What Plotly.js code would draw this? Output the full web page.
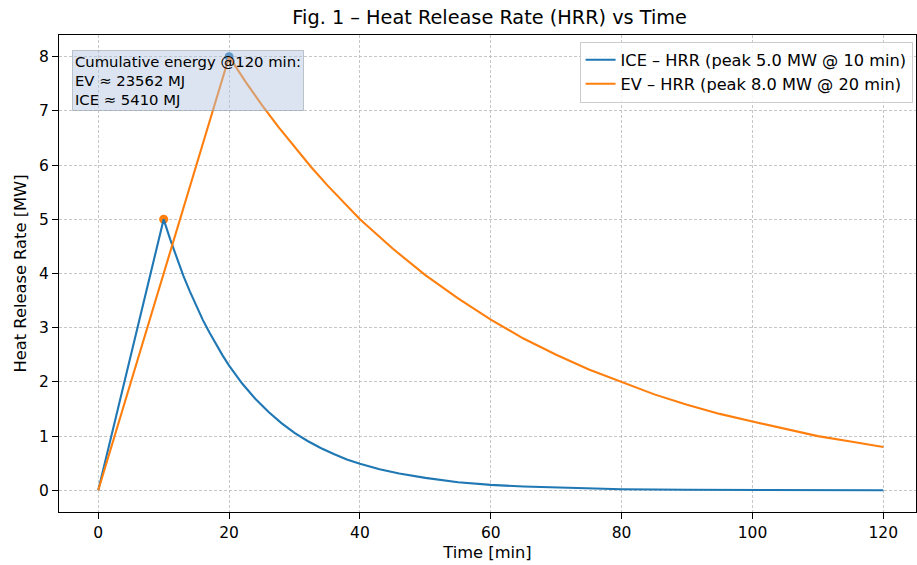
<!DOCTYPE html>
<html><head><meta charset="utf-8">
<script src="https://cdn.plot.ly/plotly-3.0.1.min.js"></script>
<style>html,body{margin:0;padding:0;background:#fff;overflow:hidden}</style>
</head><body><div id="chart" style="width:917px;height:565px"></div>
<script>
const iceTime = [0,10,11,12,13,14,15,16,17,18,19,20,22,24,26,28,30,32,34,36,38,40,43,46,50,55,60,65,70,75,80,90,100,110,120];
const iceHRR  = [0,5,4.63,4.28,3.96,3.67,3.39,3.14,2.91,2.69,2.49,2.3,1.97,1.69,1.45,1.24,1.06,0.91,0.78,0.67,0.57,0.49,0.39,0.31,0.23,0.15,0.1,0.07,0.05,0.03,0.02,0.01,0.005,0.002,0.001];
const evTime = [0,20,22.5,25,27.5,30,32.5,35,37.5,40,45,50,55,60,65,70,75,80,85,90,95,100,105,110,115,120];
const evHRR  = [0,8,7.54,7.11,6.71,6.33,5.97,5.63,5.31,5.0,4.46,3.97,3.54,3.15,2.8,2.5,2.23,2.0,1.77,1.58,1.41,1.27,1.13,1.0,0.9,0.8];
const peakTime = [10,20];
const peakHRR = [5,8];
const peakColors = ['#ff7f0e','#1f77b4'];
const seriesNames = ['ICE – HRR (peak 5.0 MW @ 10 min)','EV – HRR (peak 8.0 MW @ 20 min)'];
const titleText = 'Fig. 1 – Heat Release Rate (HRR) vs Time';
const xLabel = 'Time [min]';
const yLabel = 'Heat Release Rate [MW]';
const noteText = 'Cumulative energy @120 min:<br>EV ≈ 23562 MJ<br>ICE ≈ 5410 MJ';

const font = 'DejaVu Sans, sans-serif';
const traces = [
  {x: peakTime, y: peakHRR, mode:'markers', marker:{color:peakColors, size:9}, showlegend:false, hoverinfo:'skip'},
  {x: iceTime, y: iceHRR, mode:'lines', name: seriesNames[0], line:{color:'#1f77b4', width:2.1}},
  {x: evTime, y: evHRR, mode:'lines', name: seriesNames[1], line:{color:'#ff7f0e', width:2.1}}
];
const axisCommon = {
  showline:true, linecolor:'#000', linewidth:1, mirror:true,
  ticks:'outside', ticklen:6, tickwidth:1, tickcolor:'#000',
  showgrid:true, gridcolor:'#b8b8b8', griddash:'3px,2px', gridwidth:0.8,
  zeroline:false, tickfont:{family:font, size:15.5, color:'#000'}
};
const layout = {
  width:917, height:565,
  margin:{l:59, r:1, t:35, b:53},
  paper_bgcolor:'#fff', plot_bgcolor:'#fff',
  font:{family:font, color:'#000'},
  title:{text:titleText, x:0.534, xanchor:'center', y:0.97, yanchor:'middle', font:{family:font, size:19.3, color:'#000'}},
  xaxis:Object.assign({}, axisCommon, {range:[-6,125], tickvals:[0,20,40,60,80,100,120],
    title:{text:xLabel, font:{family:font, size:16.3}, standoff:5}}),
  yaxis:Object.assign({}, axisCommon, {range:[-0.4,8.4], tickvals:[0,1,2,3,4,5,6,7,8],
    title:{text:yLabel, font:{family:font, size:16.3}, standoff:8}}),
  legend:{x:0.996, xanchor:'right', y:0.986, yanchor:'top', bgcolor:'rgba(255,255,255,0.8)',
    bordercolor:'#cccccc', borderwidth:1, font:{family:font, size:16.2}, tracegroupgap:0, itemwidth:30},
  annotations:[{xref:'paper', yref:'paper', x:0.0155, y:0.968, xanchor:'left', yanchor:'top',
    text:noteText, align:'left', showarrow:false, bgcolor:'rgba(176,196,222,0.45)',
    bordercolor:'rgba(150,160,170,0.6)', borderwidth:1, borderpad:2,
    font:{family:font, size:14.8, color:'#000'}}]
};
Plotly.newPlot('chart', traces, layout, {displayModeBar:false, staticPlot:true});
</script></body></html>
